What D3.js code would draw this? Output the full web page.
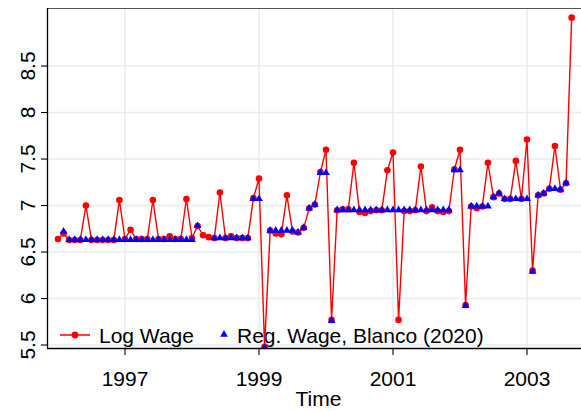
<!DOCTYPE html>
<html>
<head>
<meta charset="utf-8">
<script src="https://cdn.jsdelivr.net/npm/d3@7"></script>
<style>
  body { margin: 0; background: #fff; }
  text { font-family: "Liberation Sans", Arial, sans-serif; fill: #000; }
</style>
</head>
<body>
<script>
// monthly data, 1996m1 .. 2003m9
var startMonth = "1996-01";

var logWage = [
  6.64, 6.70, 6.63, 6.63, 6.63, 7.00, 6.63, 6.63, 6.63, 6.63, 6.63, 7.06,   // 1996
  6.64, 6.74, 6.64, 6.64, 6.64, 7.06, 6.64, 6.64, 6.67, 6.64, 6.64, 7.07,   // 1997
  6.65, 6.78, 6.68, 6.66, 6.65, 7.14, 6.65, 6.67, 6.65, 6.65, 6.65, 7.08,   // 1998
  7.29, 5.48, 6.73, 6.70, 6.69, 7.11, 6.72, 6.71, 6.76, 6.97, 7.01, 7.36,   // 1999
  7.60, 5.77, 6.95, 6.96, 6.96, 7.46, 6.93, 6.92, 6.94, 6.95, 6.95, 7.38,   // 2000
  7.57, 5.77, 6.94, 6.94, 6.95, 7.42, 6.94, 6.98, 6.94, 6.93, 6.94, 7.39,   // 2001
  7.60, 5.93, 6.99, 6.97, 6.99, 7.46, 7.09, 7.13, 7.07, 7.07, 7.48, 7.07,   // 2002
  7.71, 6.30, 7.11, 7.13, 7.18, 7.64, 7.17, 7.24, 9.02                      // 2003
];

var regWage = [
  null, 6.73, 6.64, 6.64, 6.64, 6.64, 6.64, 6.64, 6.64, 6.64, 6.64, 6.64,   // 1996
  6.64, 6.64, 6.64, 6.64, 6.64, 6.64, 6.64, 6.64, 6.64, 6.64, 6.64, 6.64,   // 1997
  6.64, 6.79, null, null, 6.66, 6.66, 6.66, 6.66, 6.66, 6.66, 6.66, 7.08,   // 1998
  7.08, 5.48, 6.74, 6.74, 6.74, 6.74, 6.74, 6.72, 6.77, 6.98, 7.02, 7.36,   // 1999
  7.36, 5.77, 6.96, 6.96, 6.96, 6.96, 6.96, 6.96, 6.96, 6.96, 6.96, 6.96,   // 2000
  6.96, 6.96, 6.96, 6.96, 6.96, 6.96, 6.96, 6.96, 6.96, 6.96, 6.96, 7.39,   // 2001
  7.39, 5.93, 7.00, 7.00, 7.00, 7.00, 7.10, 7.14, 7.08, 7.08, 7.08, 7.08,   // 2002
  7.08, 6.30, 7.12, 7.14, 7.19, 7.19, 7.18, 7.25, null                      // 2003
];

var yTicks = [5.5, 6, 6.5, 7, 7.5, 8, 8.5];
var xTicks = [1997, 1999, 2001, 2003];
var seriesNames = ["Log Wage", "Reg. Wage, Blanco (2020)"];

var W = 581, H = 411;
var plot = {left: 48, right: 581, top: 8, bottom: 348};

var months = d3.timeMonth.range(d3.timeParse("%Y-%m")(startMonth),
                                d3.timeMonth.offset(d3.timeParse("%Y-%m")(startMonth), logWage.length));
var tval = months.map(function(d) { return d.getFullYear() + d.getMonth() / 12; });

var x = d3.scaleLinear().domain([1995.851, 2003.806]).range([plot.left, plot.right]);
var y = d3.scaleLinear().domain([5.468, 9.124]).range([plot.bottom, plot.top]);

var svg = d3.select("body").append("svg")
    .attr("width", W)
    .attr("height", H);

svg.append("clipPath").attr("id", "clip")
   .append("rect")
   .attr("x", plot.left).attr("y", plot.top)
   .attr("width", plot.right - plot.left).attr("height", plot.bottom - plot.top);

// grid lines
svg.append("g").selectAll("line.hg")
   .data(yTicks).enter().append("line")
   .attr("x1", plot.left).attr("x2", plot.right)
   .attr("y1", function(d) { return y(d); }).attr("y2", function(d) { return y(d); })
   .attr("stroke", "#e6eef0").attr("stroke-width", 1.5);
svg.append("g").selectAll("line.vg")
   .data(xTicks).enter().append("line")
   .attr("y1", plot.top).attr("y2", plot.bottom)
   .attr("x1", function(d) { return x(d); }).attr("x2", function(d) { return x(d); })
   .attr("stroke", "#e6eef0").attr("stroke-width", 1.5);

// top border
svg.append("line")
   .attr("x1", plot.left).attr("x2", plot.right)
   .attr("y1", plot.top + 0.5).attr("y2", plot.top + 0.5)
   .attr("stroke", "#555").attr("stroke-width", 1.2);

// legend (drawn under the data, like the original)
var leg = svg.append("g");
leg.append("line")
   .attr("x1", 60).attr("x2", 90).attr("y1", 335).attr("y2", 335)
   .attr("stroke", "red").attr("stroke-width", 1.5);
leg.append("circle").attr("cx", 75).attr("cy", 335).attr("r", 3.4).attr("fill", "red");
leg.append("text").attr("x", 99).attr("y", 342.5).attr("font-size", "21px").text(seriesNames[0]);
leg.append("path")
   .attr("d", d3.symbol().type(d3.symbolTriangle).size(26)())
   .attr("transform", "translate(224,334.5)")
   .attr("fill", "blue");
leg.append("text").attr("x", 237).attr("y", 342.5).attr("font-size", "21px").text(seriesNames[1]);

var g = svg.append("g").attr("clip-path", "url(#clip)");

var redLine = d3.line()
    .x(function(d, i) { return x(tval[i]); })
    .y(function(d) { return y(d); });

g.append("path")
 .datum(logWage)
 .attr("d", redLine)
 .attr("fill", "none")
 .attr("stroke", "red")
 .attr("stroke-width", 1.4);

g.selectAll("circle.lw")
 .data(logWage).enter().append("circle")
 .attr("cx", function(d, i) { return x(tval[i]); })
 .attr("cy", function(d) { return y(d); })
 .attr("r", 3.3)
 .attr("fill", "red");

var tri = d3.symbol().type(d3.symbolTriangle).size(26)();
g.selectAll("path.rw")
 .data(regWage.map(function(v, i) { return {v: v, t: tval[i]}; })
              .filter(function(d) { return d.v !== null; }))
 .enter().append("path")
 .attr("d", tri)
 .attr("transform", function(d) { return "translate(" + x(d.t) + "," + (y(d.v) + 0.8) + ")"; })
 .attr("fill", "blue");

// Y axis
svg.append("line")
   .attr("x1", plot.left - 0.5).attr("x2", plot.left - 0.5)
   .attr("y1", plot.top).attr("y2", plot.bottom + 0.5)
   .attr("stroke", "#000").attr("stroke-width", 1.3);
svg.append("g").selectAll("line")
   .data(yTicks).enter().append("line")
   .attr("x1", plot.left - 7).attr("x2", plot.left)
   .attr("y1", function(d) { return y(d); }).attr("y2", function(d) { return y(d); })
   .attr("stroke", "#000").attr("stroke-width", 1.1);
svg.append("g").selectAll("text")
   .data(yTicks).enter().append("text")
   .attr("transform", function(d) { return "translate(35," + y(d) + ") rotate(-90)"; })
   .attr("text-anchor", "middle")
   .attr("font-size", "21px")
   .text(function(d) { return d3.format("")(d); });

// X axis
svg.append("line")
   .attr("x1", plot.left - 1).attr("x2", plot.right)
   .attr("y1", plot.bottom + 0.5).attr("y2", plot.bottom + 0.5)
   .attr("stroke", "#000").attr("stroke-width", 1.3);
svg.append("g").selectAll("line")
   .data(xTicks).enter().append("line")
   .attr("x1", function(d) { return x(d); }).attr("x2", function(d) { return x(d); })
   .attr("y1", plot.bottom).attr("y2", plot.bottom + 7)
   .attr("stroke", "#000").attr("stroke-width", 1.1);
svg.append("g").selectAll("text")
   .data(xTicks).enter().append("text")
   .attr("x", function(d) { return x(d); })
   .attr("y", 386)
   .attr("text-anchor", "middle")
   .attr("font-size", "21px")
   .text(function(d) { return d; });

svg.append("text")
   .attr("x", (plot.left + plot.right) / 2 + 4)
   .attr("y", 406)
   .attr("text-anchor", "middle")
   .attr("font-size", "21px")
   .text("Time");
</script>
</body>
</html>
